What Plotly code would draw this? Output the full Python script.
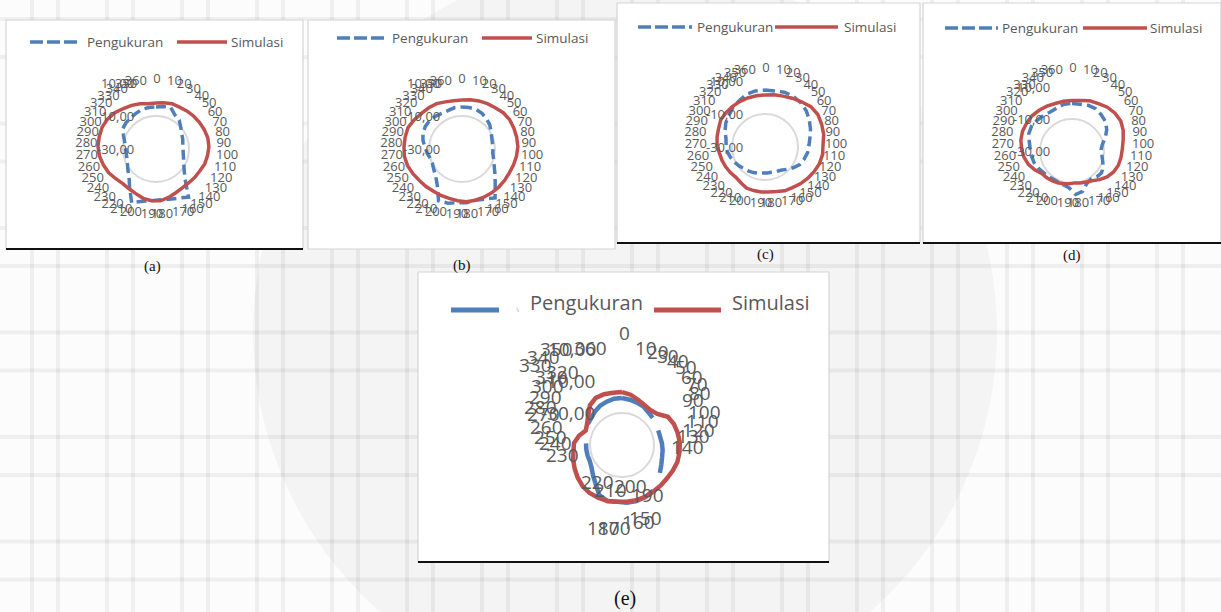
import plotly.graph_objects as go

W, H = 1221, 612

# Sudut (derajat) untuk kategori pola radiasi
ANGLE_LABELS = [str(a) for a in range(0, 361, 10)]

# Pola radiasi (dB) hasil pengukuran dan simulasi, panel (a)-(e)
PENGUKURAN_A = [-4.5, -3.9, -3.3, -6.4, -7.6, -10.0, -11.8, -12.6, -13.4, -13.6, -13.4, -12.6, -11.2, -8.8, -4.5, 5.2, 2.7, 1.5, 0.9,
                1.5, 2.7, 5.8, -1.5, -6.4, -8.8, -10.6, -11.5, -11.8, -11.5, -10.6, -8.8, -6.4, -5.8, -5.8, -5.2, -4.5, -4.5]
SIMULASI_A = [-2.1, -1.5, -0.9, -0.9, -0.3, 0.3, 0.9, 1.5, 2.1, 2.1, 1.5, 0.9, -0.3, -0.9, -1.5, -1.5, -0.9, 0.3, 1.5,
              1.5, 0.9, -0.3, -0.9, -0.9, 0.3, 2.1, 3.3, 4.5, 5.2, 5.2, 5.2, 4.5, 3.3, 1.5, 0.3, -0.9, -2.1]

PENGUKURAN_B = [-4.5, -4.5, -4.5, -5.2, -6.4, -7.6, -9.4, -10.6, -11.2, -11.2, -11.2, -10.0, -8.2, -5.2, -0.9, 5.8, 3.3, 2.1, 2.7,
                2.7, 3.9, 4.5, -3.3, -7.0, -8.8, -10.0, -10.0, -8.8, -7.6, -5.8, -4.5, -3.9, -3.9, -4.5, -5.2, -5.2, -4.5]
SIMULASI_B = [-0.3, 0.3, 0.9, 1.5, 2.1, 3.3, 3.9, 3.9, 3.9, 3.9, 3.3, 2.7, 2.1, 2.1, 2.1, 2.1, 2.1, 2.1, 2.1,
              1.5, 0.9, 0.9, 0.9, 1.5, 2.1, 3.3, 4.5, 5.2, 5.2, 5.2, 5.2, 3.9, 2.7, 2.1, 1.5, 0.3, -0.3]

PENGUKURAN_C = [4.5, 4.5, 5.2, 5.2, 4.5, 3.3, 1.5, -0.3, -2.1, -3.3, -3.9, -5.2, -6.4, -8.8, -11.2, -13.0, -13.6, -14.2, -14.2,
                -14.2, -13.6, -13.0, -12.4, -11.8, -10.6, -9.4, -8.2, -7.0, -6.4, -5.8, -3.9, -2.1, -0.9, 0.9, 2.1, 3.9, 4.5]
SIMULASI_C = [1.5, 2.1, 2.7, 3.9, 5.2, 7.0, 7.6, 7.0, 6.4, 5.2, 5.2, 4.5, 3.3, 2.1, 0.9, -0.3, -0.9, -2.1, -2.7,
              -2.7, -2.7, -2.7, -3.9, -4.5, -3.9, -3.3, -2.7, -2.1, -0.9, -0.3, 0.3, 1.5, 1.5, 1.5, 1.5, 1.5, 1.5]

PENGUKURAN_D = [-0.3, -0.3, 0.3, 0.3, -0.9, -2.1, -4.5, -7.6, -10.6, -11.8, -11.2, -10.0, -8.2, -7.0, -7.6, -8.8, -7.6, -3.9, -2.7,
                -7.0, -8.2, -8.8, -8.8, -8.2, -7.6, -6.4, -5.2, -4.5, -3.9, -2.7, -0.9, -0.3, -0.9, -1.5, -2.1, -1.5, -0.3]
SIMULASI_D = [1.5, 2.1, 3.3, 3.9, 5.2, 5.8, 5.8, 4.5, 2.7, 1.5, 0.9, 0.3, -0.9, -2.7, -5.2, -7.6, -8.8, -9.4, -10.0,
              -9.4, -8.8, -8.2, -7.6, -7.0, -6.4, -3.9, -1.5, 0.3, 1.5, 2.7, 3.3, 3.3, 3.3, 2.7, 2.1, 1.5, 1.5]

PENGUKURAN_E = [-20.6, -21.3, -21.9, -22.5, -23.8, -24.4, None, -25.6, -25.6, -25.0, -24.4, -23.8, -22.5, -20.6, None, -15.6, -14.4, -13.8, -13.8,
                -14.4, -13.8, -15.6, -20.6, -23.8, -26.3, -27.5, -27.5, -27.5, -27.5, None, None, -25.0, -24.4, -23.1, -21.9, -21.3, -20.6]
SIMULASI_E = [-16.9, -18.1, -20.0, -21.3, -21.9, -20.6, -16.3, -15.0, -14.4, -13.8, -13.8, -13.8, -14.4, -15.0, -15.0, -15.0, -14.4, -14.4, -14.4,
              -14.4, -13.8, -13.8, -13.8, -14.4, -15.6, -16.9, -18.1, -19.4, -20.0, -22.5, -25.6, -24.4, -21.9, -18.1, -16.3, -16.3, -16.9]

RADIAL_TICKS_ABCD = [-30, -10, 10]
RADIAL_TICKS_E = [-30, -10, 10]
SERIES_NAMES = ["Pengukuran", "Simulasi"]
CAPTIONS = ["(a)", "(b)", "(c)", "(d)", "(e)"]

BLUE = "#4f7fba"
RED = "#c0504d"
GRAY_TEXT = "#595959"
FONT = "Open Sans"
SERIF = "Liberation Serif"

# Tata letak panel (piksel): pusat grafik, pusat cincin label sudut, kotak, legenda, keterangan
PANELS = [
    dict(data=(PENGUKURAN_A, SIMULASI_A), cx=156, cy=149, R=66, lab=(157, 145, 59), rng=[-30, 10], grid=-10,
         ticks=RADIAL_TICKS_ABCD, box=(6, 20, 303, 249), black=True, leg=(30, 80, 85, 177, 227, 229, 42, 42),
         cap=(152, 266, 15)),
    dict(data=(PENGUKURAN_B, SIMULASI_B), cx=462, cy=149, R=66, lab=(462, 145, 59), rng=[-30, 10], grid=-10,
         ticks=RADIAL_TICKS_ABCD, box=(308, 20, 615, 249), black=False, leg=(337, 388, 390, 482, 532, 534, 38, 38),
         cap=(462, 265, 15)),
    dict(data=(PENGUKURAN_C, SIMULASI_C), cx=765, cy=147, R=66, lab=(766, 134, 59), rng=[-30, 10], grid=-10,
         ticks=RADIAL_TICKS_ABCD, box=(617, 3, 920, 243), black=True, leg=(638, 692, 695, 775, 838, 842, 27, 27),
         cap=(765, 254, 15)),
    dict(data=(PENGUKURAN_D, SIMULASI_D), cx=1072, cy=151, R=64, lab=(1073, 134, 59), rng=[-30, 10], grid=-10,
         ticks=RADIAL_TICKS_ABCD, box=(923, 3, 1221, 243), black=True, leg=(945, 998, 1000, 1083, 1147, 1148, 28, 28),
         cap=(1072, 255, 15)),
    dict(data=(PENGUKURAN_E, SIMULASI_E), cx=622, cy=445, R=96, lab=None, rng=[-50, 10], grid=-30,
         ticks=RADIAL_TICKS_E, box=(418, 272, 829, 562), black=True, leg=(451, 499, 528, 654, 721, 730, 310, 302),
         cap=(625, 598, 20)),
]

# Posisi label sudut panel (e) relatif terhadap pusat (dx, dy piksel)
E_LABEL_OFFSETS = [(2, -112), (24, -97), (36, -93), (46, -89), (56, -84), (64, -78), (70, -68), (75, -61), (78, -52),
                   (71, -45), (83, -33), (80, -24), (76, -15), (71, -9), (65, 2), (23, 73), (16, 77), (-8, 83), (-19, 83),
                   (26, 50), (8, 41), (-12, 45), (-25, 37), (-60, 10), (-67, -2), (-72, -8), (-76, -18), (-79, -31),
                   (-82, -38), (-77, -48), (-75, -59), (-71, -68), (-60, -73), (-87, -80), (-79, -88), (-66, -96), (-32, -97)]


def fx(x):
    return x / W


def fy(y):
    return 1 - y / H


def polar_domain(cx, cy, r):
    return dict(x=[fx(cx - r), fx(cx + r)], y=[fy(cy + r), fy(cy - r)])


fig = go.Figure()
shapes = []
annotations = []

# Latar: kertas dengan garis kisi samar dan watermark
shapes.append(dict(type="circle", xref="paper", yref="paper", x0=fx(253), x1=fx(997), y0=fy(704), y1=fy(-40),
                   fillcolor="rgba(0,0,0,0.03)", line=dict(width=0), layer="below"))
for k in range(17):
    for off in (0, 26):
        x = 32 + 75 * k + off
        if x < W:
            shapes.append(dict(type="line", xref="paper", yref="paper", x0=fx(x), x1=fx(x), y0=0, y1=1,
                               line=dict(color="rgba(0,0,0,0.05)", width=4), layer="below"))
for k in range(6):
    for off in (0, 38):
        y = 19 + 104.5 * k + off
        if y < H:
            shapes.append(dict(type="line", xref="paper", yref="paper", x0=0, x1=1, y0=fy(y), y1=fy(y),
                               line=dict(color="rgba(0,0,0,0.05)", width=4), layer="below"))

label_polar_index = 6
for i, p in enumerate(PANELS):
    big = i == 4
    sub = "polar" if i == 0 else f"polar{i + 1}"
    meas, sim = p["data"]
    cx, cy, R = p["cx"], p["cy"], p["R"]
    rmin, rmax = p["rng"]

    # Kotak panel
    x0, y0, x1, y1 = p["box"]
    shapes.append(dict(type="rect", xref="paper", yref="paper", x0=fx(x0), x1=fx(x1), y0=fy(y1), y1=fy(y0),
                       fillcolor="white", line=dict(color="#d4d4d4", width=1.2), layer="below"))
    if p["black"]:
        shapes.append(dict(type="line", xref="paper", yref="paper", x0=fx(x0), x1=fx(x1), y0=fy(y1), y1=fy(y1),
                           line=dict(color="#111111", width=2), layer="below"))

    theta = ANGLE_LABELS + ANGLE_LABELS[:1]
    fig.add_trace(go.Scatterpolar(
        r=list(meas) + list(meas[:1]), theta=theta, subplot=sub, mode="lines", name=SERIES_NAMES[0],
        line=dict(color=BLUE, width=4.5 if big else 3.5, dash="solid" if big else "10px,5px"),
        connectgaps=False, cliponaxis=False, showlegend=False))
    fig.add_trace(go.Scatterpolar(
        r=list(sim) + list(sim[:1]), theta=theta, subplot=sub, mode="lines", name=SERIES_NAMES[1],
        line=dict(color=RED, width=4.5 if big else 3.5), cliponaxis=False, showlegend=False))

    fig.update_layout(**{sub: dict(
        domain=polar_domain(cx, cy, R),
        bgcolor="rgba(0,0,0,0)",
        angularaxis=dict(type="category", categoryarray=ANGLE_LABELS, rotation=90, direction="clockwise",
                         showline=False, showgrid=False, ticks="", showticklabels=False),
        radialaxis=dict(range=[rmin, rmax], tickvals=[p["grid"]], showticklabels=False, showline=False,
                        ticks="", gridcolor="#d9d9d9", gridwidth=1.5),
    )})

    # Cincin label sudut (a)-(d)
    if p["lab"] is not None:
        lcx, lcy, lr = p["lab"]
        lsub = f"polar{label_polar_index}"
        label_polar_index += 1
        fig.add_trace(go.Scatterpolar(r=[None], theta=ANGLE_LABELS[:1], subplot=lsub, mode="lines",
                                      showlegend=False, hoverinfo="skip"))
        fig.update_layout(**{lsub: dict(
            domain=polar_domain(lcx, lcy, lr),
            bgcolor="rgba(0,0,0,0)",
            angularaxis=dict(type="category", categoryarray=ANGLE_LABELS, rotation=90, direction="clockwise",
                             showline=False, showgrid=False, ticks="", tickmode="array", tickvals=ANGLE_LABELS,
                             ticktext=ANGLE_LABELS, tickfont=dict(family=FONT, size=13, color=GRAY_TEXT)),
            radialaxis=dict(visible=False, range=[0, 1]),
        )})

    # Label sumbu radial
    lab_size = 19 if big else 13
    lab_dx = 24 if big else 20
    for v in p["ticks"]:
        ry = cy - (v - rmin) / (rmax - rmin) * R
        annotations.append(dict(xref="paper", yref="paper", x=fx(cx - lab_dx), y=fy(ry), xanchor="right",
                                yanchor="middle", showarrow=False, text=f"{v:.2f}".replace(".", ","),
                                font=dict(family=FONT, size=lab_size, color=GRAY_TEXT)))

    # Label sudut panel (e)
    if big:
        for lab, (dx, dy) in zip(ANGLE_LABELS, E_LABEL_OFFSETS):
            annotations.append(dict(xref="paper", yref="paper", x=fx(cx + dx), y=fy(cy + dy), xanchor="center",
                                    yanchor="middle", showarrow=False, text=lab,
                                    font=dict(family=FONT, size=19, color=GRAY_TEXT)))

    # Legenda
    bx0, bx1, tx_m, rx0, rx1, tx_s, ly, ty = p["leg"]
    shapes.append(dict(type="line", xref="paper", yref="paper", x0=fx(bx0), x1=fx(bx1), y0=fy(ly), y1=fy(ly),
                       line=dict(color=BLUE, width=5 if big else 3.5, dash="solid" if big else "13px,4px")))
    if big:
        shapes.append(dict(type="line", xref="paper", yref="paper", x0=fx(517), x1=fx(518.5), y0=fy(ly - 2),
                           y1=fy(ly + 2), line=dict(color="#c8d6ea", width=1.5)))
    shapes.append(dict(type="line", xref="paper", yref="paper", x0=fx(rx0), x1=fx(rx1), y0=fy(ly), y1=fy(ly),
                       line=dict(color=RED, width=5 if big else 3.5)))
    leg_size = 20 if big else 13.5
    for txt, tx in ((SERIES_NAMES[0], tx_m), (SERIES_NAMES[1], tx_s)):
        annotations.append(dict(xref="paper", yref="paper", x=fx(tx), y=fy(ty), xanchor="left", yanchor="middle",
                                showarrow=False, text=txt, font=dict(family=FONT, size=leg_size, color=GRAY_TEXT)))

    # Keterangan panel
    capx, capy, caps = p["cap"]
    annotations.append(dict(xref="paper", yref="paper", x=fx(capx), y=fy(capy), xanchor="center", yanchor="middle",
                            showarrow=False, text=CAPTIONS[i], font=dict(family=SERIF, size=caps, color="#111111")))

fig.update_layout(
    width=W, height=H, autosize=False,
    margin=dict(l=0, r=0, t=0, b=0),
    paper_bgcolor="#fcfcfc", plot_bgcolor="#fcfcfc",
    showlegend=False,
    shapes=shapes, annotations=annotations,
)

fig.write_html("out.html")
